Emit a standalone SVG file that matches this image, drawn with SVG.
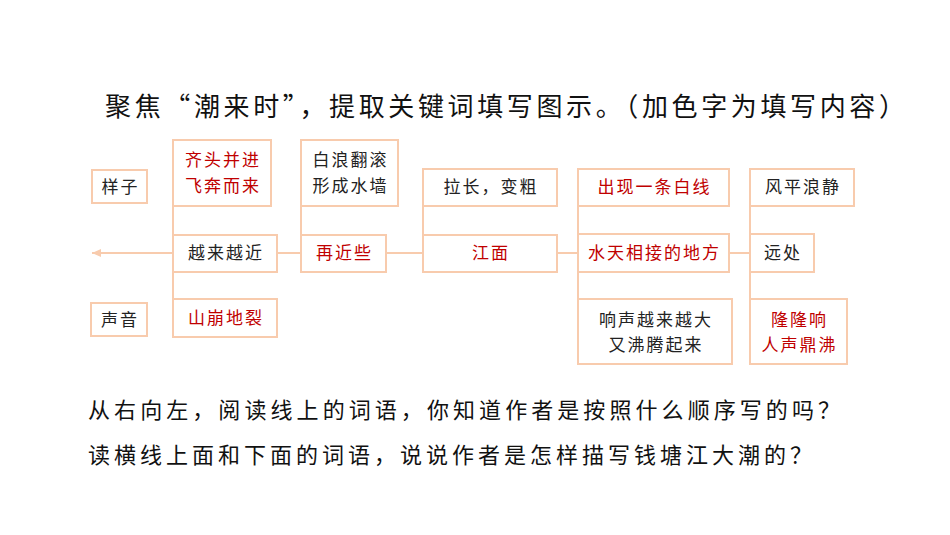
<svg xmlns="http://www.w3.org/2000/svg" width="950" height="535" viewBox="0 0 950 535">
<style>
.b{fill:#fff;stroke:#f8cbad;stroke-width:2}
.t{font-family:"Noto Sans CJK SC",sans-serif;font-size:17px;letter-spacing:2px;text-anchor:middle;fill:#222}
.r{fill:#c00000}
.l{stroke:#f8cbad;stroke-width:2;fill:none}
.h{font-family:"Noto Sans CJK SC",sans-serif;fill:#111}
</style>
<defs><marker id="a" markerWidth="10" markerHeight="10" refX="9" refY="5" orient="auto" markerUnits="userSpaceOnUse"><path d="M0,1 L9,5 L0,9 Z" fill="#f8cbad"/></marker></defs>
<rect width="950" height="535" fill="#fff"/>
<text class="h" x="105" y="116" font-size="26" textLength="800" lengthAdjust="spacing">聚焦“潮来时”，提取关键词填写图示。（加色字为填写内容）</text>
<g id="connectors">
<path class="l" d="M750,253 H92" marker-end="url(#a)"/>
<path class="l" d="M173,206 V299 M301,206 V235 M423,206 V235 M578,206 V299 M750,206 V299"/>
</g>
<g id="n1"><rect class="b" x="92" y="170" width="55" height="33"/><text class="t" x="120.5" y="193">样子</text></g>
<g id="n2"><rect class="b" x="91" y="303" width="56" height="33"/><text class="t" x="120" y="326">声音</text></g>
<g id="n3"><rect class="b" x="173" y="140" width="98" height="66"/><text class="t r" x="223" y="166">齐头并进</text><text class="t r" x="223" y="192">飞奔而来</text></g>
<g id="n4"><rect class="b" x="173" y="235" width="104" height="37"/><text class="t" x="226" y="259">越来越近</text></g>
<g id="n5"><rect class="b" x="173" y="299" width="104" height="38"/><text class="t r" x="226" y="324">山崩地裂</text></g>
<g id="n6"><rect class="b" x="301" y="140" width="97" height="66"/><text class="t" x="350.5" y="166">白浪翻滚</text><text class="t" x="350.5" y="192">形成水墙</text></g>
<g id="n7"><rect class="b" x="301" y="235" width="85" height="37"/><text class="t r" x="344.5" y="259">再近些</text></g>
<g id="n8"><rect class="b" x="423" y="169" width="134" height="37"/><text class="t" x="491" y="193">拉长，变粗</text></g>
<g id="n9"><rect class="b" x="423" y="235" width="134" height="37"/><text class="t r" x="491" y="259">江面</text></g>
<g id="n10"><rect class="b" x="578" y="169" width="151" height="37"/><text class="t r" x="654.5" y="193">出现一条白线</text></g>
<g id="n11"><rect class="b" x="578" y="234" width="151" height="38"/><text class="t r" x="654.5" y="259">水天相接的地方</text></g>
<g id="n12"><rect class="b" x="578" y="299" width="154" height="65"/><text class="t" x="656" y="326">响声越来越大</text><text class="t" x="656" y="351">又沸腾起来</text></g>
<g id="n13"><rect class="b" x="750" y="169" width="104" height="37"/><text class="t" x="803" y="193">风平浪静</text></g>
<g id="n14"><rect class="b" x="750" y="234" width="64" height="38"/><text class="t" x="783" y="259">远处</text></g>
<g id="n15"><rect class="b" x="750" y="299" width="97" height="65"/><text class="t r" x="799.5" y="326">隆隆响</text><text class="t r" x="799.5" y="351">人声鼎沸</text></g>
<text class="h" x="88" y="418" font-size="22" textLength="752" lengthAdjust="spacing">从右向左，阅读线上的词语，你知道作者是按照什么顺序写的吗？</text>
<text class="h" x="88" y="463" font-size="22" textLength="724" lengthAdjust="spacing">读横线上面和下面的词语，说说作者是怎样描写钱塘江大潮的？</text>
</svg>
